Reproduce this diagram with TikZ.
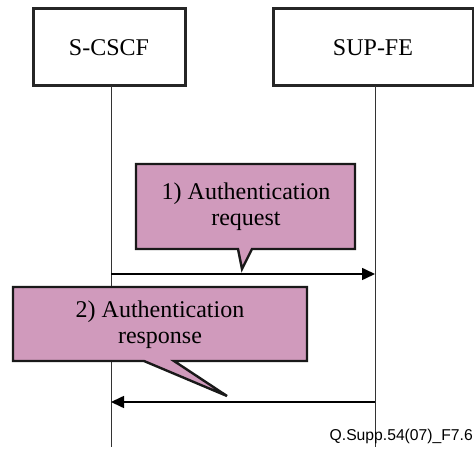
\documentclass[tikz,border=0pt]{standalone}
\usepackage{fontspec}
\setmainfont{Liberation Serif}
\newfontfamily\footfont{Liberation Sans}
\usetikzlibrary{arrows.meta}
\definecolor{callfill}{RGB}{208,154,188}
\begin{document}
\begin{tikzpicture}[x=1pt,y=-1pt,
  actor/.style={draw=black!85,line width=3pt,fill=white,minimum width=152pt,minimum height=77pt,inner sep=0pt,font=\fontsize{24}{26}\selectfont},
  lifeline/.style={draw=black!80,line width=1pt},
  msg/.style={draw=black,line width=1.6pt,-{Triangle[length=13pt,width=12pt]}},
  callout/.style={draw=black!90,line width=2.4pt,fill=callfill,line join=miter},
  calltext/.style={align=center,inner sep=0pt,font=\fontsize{24}{26}\selectfont}]
\useasboundingbox (0,0) rectangle (474,470);
% actors
\node[actor] (scscf) at (109,47.5) {S-CSCF};
\node[actor,minimum width=200pt] (supfe) at (373,47.5) {SUP-FE};
% lifelines
\coordinate (sTop) at (111,86);
\coordinate (sBot) at (111,447);
\coordinate (fTop) at (375,86);
\coordinate (fBot) at (375,447);
\draw[lifeline] (sTop) -- (sBot);
\draw[lifeline] (fTop) -- (fBot);
% messages
\coordinate (m1s) at (111,274);
\coordinate (m1e) at (375,274);
\coordinate (m2s) at (375,402);
\coordinate (m2e) at (111,402);
\draw[msg] (m1s) -- (m1e);
\draw[msg] (m2s) -- (m2e);
% callout 1
\draw[callout] (136,164) -- (355,164) -- (355,249) -- (252,249) -- (242,269) -- (238,249) -- (136,249) -- cycle;
\node[calltext] (c1) at (246,207) {1) Authentication\\request};
% callout 2
\draw[callout] (13,287) -- (307,287) -- (307,361) -- (174,361) -- (227,396) -- (144,361) -- (13,361) -- cycle;
\node[calltext] (c2) at (160,325) {2) Authentication\\response};
% footer
\node[anchor=base east,inner sep=0pt,font=\footfont\fontsize{15.7}{18}\selectfont] (fig) at (473,440) {Q.Supp.54(07)\_F7.6};
\end{tikzpicture}
\end{document}
